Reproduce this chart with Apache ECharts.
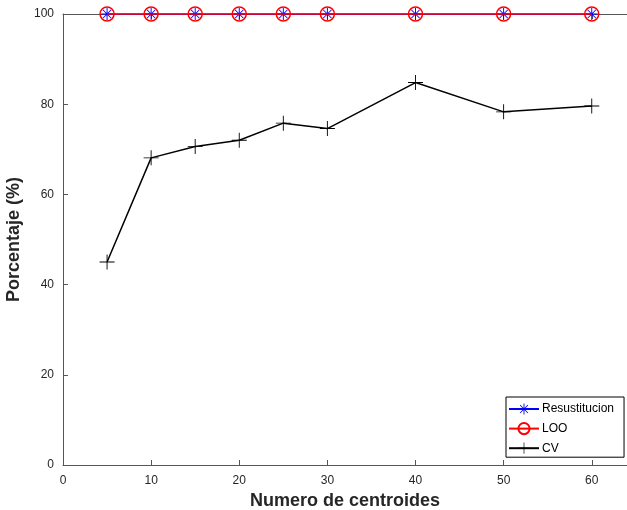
<!DOCTYPE html>
<html>
<head>
<meta charset="utf-8">
<script src="https://cdn.jsdelivr.net/npm/echarts@6/dist/echarts.min.js"></script>
<style>html,body{margin:0;padding:0;background:#fff;overflow:hidden}#c{width:627px;height:510px}</style>
</head>
<body>
<div id="c"></div>
<script>
const centroides = [5, 10, 15, 20, 25, 30, 40, 50, 60];
const resustitucion = [100, 100, 100, 100, 100, 100, 100, 100, 100];
const loo = [100, 100, 100, 100, 100, 100, 100, 100, 100];
const cv = [45.0, 68.1, 70.6, 72.0, 75.8, 74.6, 84.8, 78.3, 79.6];

const asterisk = 'path://M-0.8,-10 L0.8,-10 L0.8,10 L-0.8,10 Z M-10,-0.8 L10,-0.8 L10,0.8 L-10,0.8 Z M-7.6,-6.5 L-6.5,-7.6 L7.6,6.5 L6.5,7.6 Z M6.5,-7.6 L7.6,-6.5 L-6.5,7.6 L-7.6,6.5 Z';
const plus = 'path://M-0.6,-10 L0.6,-10 L0.6,10 L-0.6,10 Z M-10,-0.6 L10,-0.6 L10,0.6 L-10,0.6 Z';

const pair = (xs, ys) => xs.map((x, i) => [x, ys[i]]);
const font = 'Liberation Sans, Arial, sans-serif';
const axisCol = '#555';
const labelCol = '#262626';

const chart = echarts.init(document.getElementById('c'), null, {renderer: 'canvas', width: 627, height: 510});
chart.setOption({
  animation: false,
  backgroundColor: '#fff',
  textStyle: {fontFamily: font},
  grid: {left: 63, top: 14, width: 564, height: 451, containLabel: false, outerBoundsMode: 'none'},
  xAxis: [{
    type: 'value', min: 0, max: 64, interval: 10,
    name: 'Numero de centroides', nameLocation: 'middle', nameGap: 26,
    nameTextStyle: {fontSize: 18, fontWeight: 'bold', color: labelCol, fontFamily: font},
    axisLine: {show: true, lineStyle: {color: axisCol, width: 1}},
    axisTick: {show: true, inside: true, length: 5, lineStyle: {color: axisCol}},
    axisLabel: {fontSize: 12, color: labelCol, margin: 10, showMaxLabel: false, fontFamily: font},
    splitLine: {show: false}
  }, {
    type: 'value', min: 0, max: 64, interval: 10, position: 'top',
    axisLine: {show: true, onZero: false, lineStyle: {color: axisCol, width: 1}},
    axisTick: {show: true, inside: true, length: 5, lineStyle: {color: axisCol}},
    axisLabel: {show: false}, splitLine: {show: false}
  }],
  yAxis: {
    type: 'value', min: 0, max: 100, interval: 20,
    name: 'Porcentaje (%)', nameLocation: 'middle', nameGap: 22,
    nameTextStyle: {fontSize: 18, fontWeight: 'bold', color: labelCol, fontFamily: font},
    axisLine: {show: true, lineStyle: {color: axisCol, width: 1}},
    axisTick: {show: true, inside: true, length: 5, lineStyle: {color: axisCol}},
    axisLabel: {fontSize: 12, color: labelCol, margin: 9, fontFamily: font},
    splitLine: {show: false}
  },
  legend: {
    orient: 'vertical', left: 506, top: 397,
    padding: [6, 10, 3, 2],
    itemWidth: 30, itemHeight: 14, itemGap: 7,
    borderColor: '#000', borderWidth: 1, backgroundColor: '#fff',
    textStyle: {fontSize: 12, color: '#000', fontFamily: font, padding: [0, 0, 0, -2]},
    data: ['Resustitucion', 'LOO', 'CV']
  },
  series: [{
    name: 'Resustitucion', type: 'line', data: pair(centroides, resustitucion),
    symbol: asterisk, symbolSize: 12, showAllSymbol: true,
    lineStyle: {color: '#0000ff', width: 1.5},
    itemStyle: {color: '#0000ff'}, z: 2
  }, {
    name: 'LOO', type: 'line', data: pair(centroides, loo),
    symbol: 'circle', symbolSize: 14, showAllSymbol: true,
    lineStyle: {color: '#ff0000', width: 1.5},
    itemStyle: {color: 'rgba(0,0,0,0)', borderColor: '#ff0000', borderWidth: 1.5}, z: 3
  }, {
    name: 'CV', type: 'line', data: pair(centroides, cv),
    symbol: plus, symbolSize: 15, showAllSymbol: true,
    lineStyle: {color: '#000', width: 1.5},
    itemStyle: {color: '#000'}, z: 2
  }]
});
</script>
</body>
</html>
